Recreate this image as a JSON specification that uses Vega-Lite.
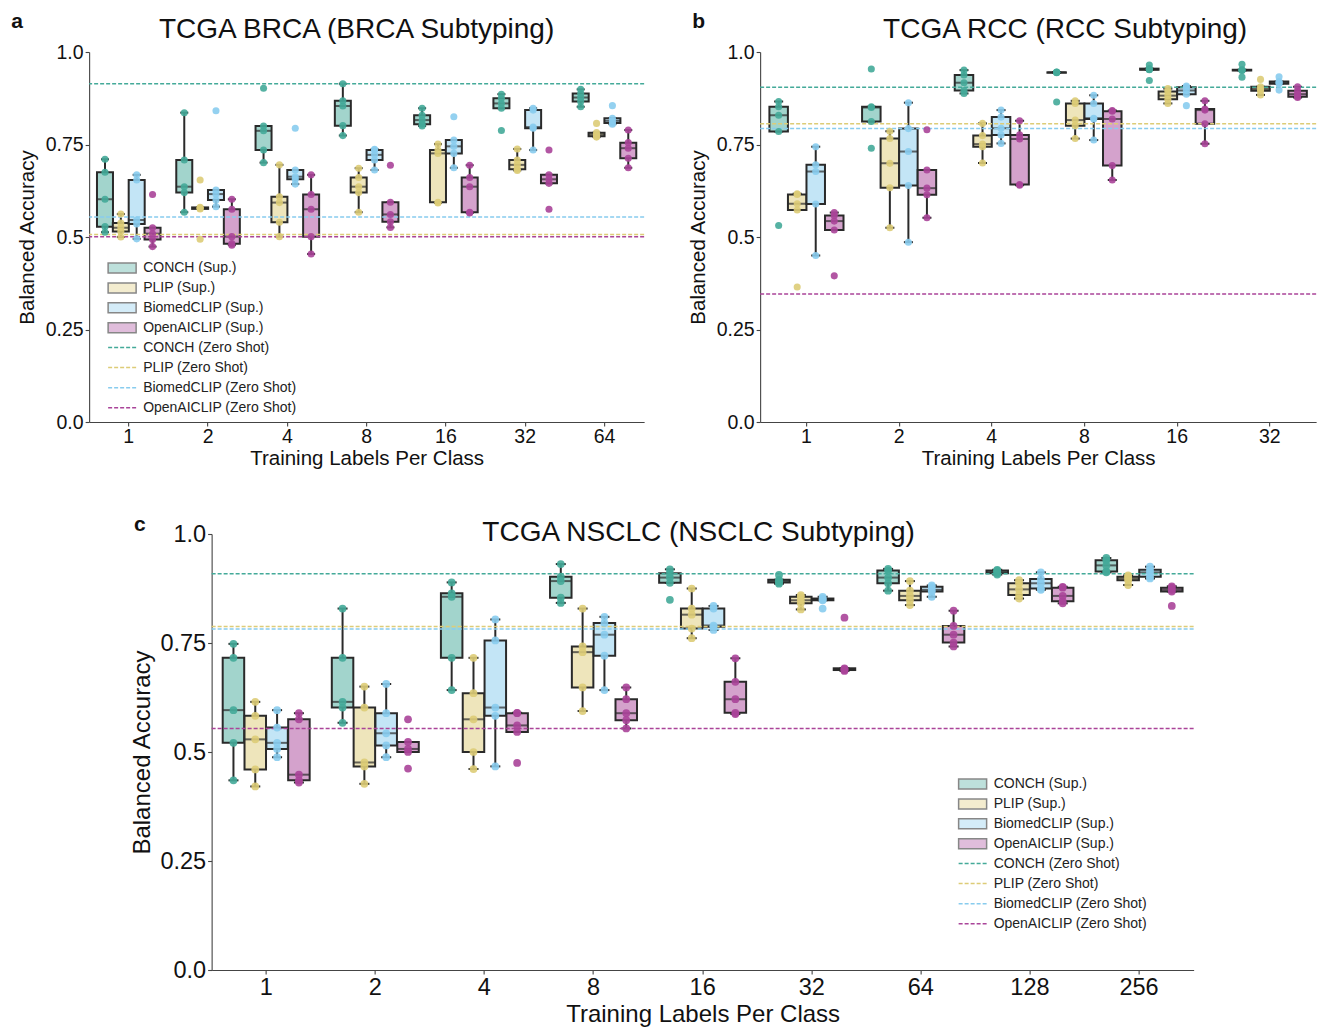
{
"$schema": "https://vega.github.io/schema/vega-lite/v6.json",
"padding": {"left": 11, "top": 10, "right": 5, "bottom": 0},
"background": "white",
"config": {
  "font": "Liberation Sans",
  "view": {"stroke": null},
  "axis": {"grid": false, "domainColor": "#444", "tickColor": "#444", "labelColor": "#111", "titleColor": "#111", "titleFontWeight": "normal", "labelFont": "Liberation Sans", "titleFont": "Liberation Sans", "tickSize": 4, "domainWidth": 1.1, "tickWidth": 1.1},
  "title": {"fontWeight": "normal", "color": "#111", "font": "Liberation Sans"},
  "legend": {"labelFont": "Liberation Sans", "labelFontSize": 14, "labelColor": "#222", "title": null, "symbolSize": 100, "labelOffset": 23, "rowPadding": 3.9, "orient": "none"}
},
"datasets": {
"zs": [
{"panel":"a","model":"CONCH (Zero Shot)","acc":0.914},
{"panel":"a","model":"PLIP (Zero Shot)","acc":0.507},
{"panel":"a","model":"BiomedCLIP (Zero Shot)","acc":0.554},
{"panel":"a","model":"OpenAICLIP (Zero Shot)","acc":0.501},
{"panel":"b","model":"CONCH (Zero Shot)","acc":0.905},
{"panel":"b","model":"PLIP (Zero Shot)","acc":0.806},
{"panel":"b","model":"BiomedCLIP (Zero Shot)","acc":0.793},
{"panel":"b","model":"OpenAICLIP (Zero Shot)","acc":0.346},
{"panel":"c","model":"CONCH (Zero Shot)","acc":0.909},
{"panel":"c","model":"PLIP (Zero Shot)","acc":0.788},
{"panel":"c","model":"BiomedCLIP (Zero Shot)","acc":0.782},
{"panel":"c","model":"OpenAICLIP (Zero Shot)","acc":0.554}
],
"pts": [
{"panel":"a","labels":"1","model":"CONCH","acc":0.513},{"panel":"a","labels":"1","model":"CONCH","acc":0.528},{"panel":"a","labels":"1","model":"CONCH","acc":0.602},{"panel":"a","labels":"1","model":"CONCH","acc":0.675},{"panel":"a","labels":"1","model":"CONCH","acc":0.710},
{"panel":"a","labels":"1","model":"PLIP","acc":0.500},{"panel":"a","labels":"1","model":"PLIP","acc":0.515},{"panel":"a","labels":"1","model":"PLIP","acc":0.525},{"panel":"a","labels":"1","model":"PLIP","acc":0.538},{"panel":"a","labels":"1","model":"PLIP","acc":0.562},
{"panel":"a","labels":"1","model":"BiomedCLIP","acc":0.495},{"panel":"a","labels":"1","model":"BiomedCLIP","acc":0.535},{"panel":"a","labels":"1","model":"BiomedCLIP","acc":0.546},{"panel":"a","labels":"1","model":"BiomedCLIP","acc":0.654},{"panel":"a","labels":"1","model":"BiomedCLIP","acc":0.668},
{"panel":"a","labels":"1","model":"OpenAICLIP","acc":0.474},{"panel":"a","labels":"1","model":"OpenAICLIP","acc":0.493},{"panel":"a","labels":"1","model":"OpenAICLIP","acc":0.509},{"panel":"a","labels":"1","model":"OpenAICLIP","acc":0.525},{"panel":"a","labels":"1","model":"OpenAICLIP","acc":0.615},
{"panel":"a","labels":"2","model":"CONCH","acc":0.567},{"panel":"a","labels":"2","model":"CONCH","acc":0.620},{"panel":"a","labels":"2","model":"CONCH","acc":0.636},{"panel":"a","labels":"2","model":"CONCH","acc":0.708},{"panel":"a","labels":"2","model":"CONCH","acc":0.836},
{"panel":"a","labels":"2","model":"PLIP","acc":0.494},{"panel":"a","labels":"2","model":"PLIP","acc":0.576},{"panel":"a","labels":"2","model":"PLIP","acc":0.578},{"panel":"a","labels":"2","model":"PLIP","acc":0.580},{"panel":"a","labels":"2","model":"PLIP","acc":0.654},
{"panel":"a","labels":"2","model":"BiomedCLIP","acc":0.582},{"panel":"a","labels":"2","model":"BiomedCLIP","acc":0.600},{"panel":"a","labels":"2","model":"BiomedCLIP","acc":0.616},{"panel":"a","labels":"2","model":"BiomedCLIP","acc":0.627},{"panel":"a","labels":"2","model":"BiomedCLIP","acc":0.841},
{"panel":"a","labels":"2","model":"OpenAICLIP","acc":0.478},{"panel":"a","labels":"2","model":"OpenAICLIP","acc":0.482},{"panel":"a","labels":"2","model":"OpenAICLIP","acc":0.501},{"panel":"a","labels":"2","model":"OpenAICLIP","acc":0.575},{"panel":"a","labels":"2","model":"OpenAICLIP","acc":0.602},
{"panel":"a","labels":"4","model":"CONCH","acc":0.701},{"panel":"a","labels":"4","model":"CONCH","acc":0.735},{"panel":"a","labels":"4","model":"CONCH","acc":0.787},{"panel":"a","labels":"4","model":"CONCH","acc":0.800},{"panel":"a","labels":"4","model":"CONCH","acc":0.902},
{"panel":"a","labels":"4","model":"PLIP","acc":0.501},{"panel":"a","labels":"4","model":"PLIP","acc":0.540},{"panel":"a","labels":"4","model":"PLIP","acc":0.593},{"panel":"a","labels":"4","model":"PLIP","acc":0.609},{"panel":"a","labels":"4","model":"PLIP","acc":0.695},
{"panel":"a","labels":"4","model":"BiomedCLIP","acc":0.643},{"panel":"a","labels":"4","model":"BiomedCLIP","acc":0.656},{"panel":"a","labels":"4","model":"BiomedCLIP","acc":0.663},{"panel":"a","labels":"4","model":"BiomedCLIP","acc":0.681},{"panel":"a","labels":"4","model":"BiomedCLIP","acc":0.794},
{"panel":"a","labels":"4","model":"OpenAICLIP","acc":0.454},{"panel":"a","labels":"4","model":"OpenAICLIP","acc":0.501},{"panel":"a","labels":"4","model":"OpenAICLIP","acc":0.575},{"panel":"a","labels":"4","model":"OpenAICLIP","acc":0.615},{"panel":"a","labels":"4","model":"OpenAICLIP","acc":0.668},
{"panel":"a","labels":"8","model":"CONCH","acc":0.774},{"panel":"a","labels":"8","model":"CONCH","acc":0.801},{"panel":"a","labels":"8","model":"CONCH","acc":0.854},{"panel":"a","labels":"8","model":"CONCH","acc":0.868},{"panel":"a","labels":"8","model":"CONCH","acc":0.914},
{"panel":"a","labels":"8","model":"PLIP","acc":0.567},{"panel":"a","labels":"8","model":"PLIP","acc":0.620},{"panel":"a","labels":"8","model":"PLIP","acc":0.636},{"panel":"a","labels":"8","model":"PLIP","acc":0.661},{"panel":"a","labels":"8","model":"PLIP","acc":0.686},
{"panel":"a","labels":"8","model":"BiomedCLIP","acc":0.681},{"panel":"a","labels":"8","model":"BiomedCLIP","acc":0.708},{"panel":"a","labels":"8","model":"BiomedCLIP","acc":0.722},{"panel":"a","labels":"8","model":"BiomedCLIP","acc":0.735},{"panel":"a","labels":"8","model":"BiomedCLIP","acc":0.737},
{"panel":"a","labels":"8","model":"OpenAICLIP","acc":0.526},{"panel":"a","labels":"8","model":"OpenAICLIP","acc":0.541},{"panel":"a","labels":"8","model":"OpenAICLIP","acc":0.561},{"panel":"a","labels":"8","model":"OpenAICLIP","acc":0.594},{"panel":"a","labels":"8","model":"OpenAICLIP","acc":0.694},
{"panel":"a","labels":"16","model":"CONCH","acc":0.800},{"panel":"a","labels":"16","model":"CONCH","acc":0.805},{"panel":"a","labels":"16","model":"CONCH","acc":0.816},{"panel":"a","labels":"16","model":"CONCH","acc":0.829},{"panel":"a","labels":"16","model":"CONCH","acc":0.848},
{"panel":"a","labels":"16","model":"PLIP","acc":0.592},{"panel":"a","labels":"16","model":"PLIP","acc":0.594},{"panel":"a","labels":"16","model":"PLIP","acc":0.726},{"panel":"a","labels":"16","model":"PLIP","acc":0.735},{"panel":"a","labels":"16","model":"PLIP","acc":0.751},
{"panel":"a","labels":"16","model":"BiomedCLIP","acc":0.687},{"panel":"a","labels":"16","model":"BiomedCLIP","acc":0.726},{"panel":"a","labels":"16","model":"BiomedCLIP","acc":0.745},{"panel":"a","labels":"16","model":"BiomedCLIP","acc":0.762},{"panel":"a","labels":"16","model":"BiomedCLIP","acc":0.825},
{"panel":"a","labels":"16","model":"OpenAICLIP","acc":0.565},{"panel":"a","labels":"16","model":"OpenAICLIP","acc":0.567},{"panel":"a","labels":"16","model":"OpenAICLIP","acc":0.636},{"panel":"a","labels":"16","model":"OpenAICLIP","acc":0.661},{"panel":"a","labels":"16","model":"OpenAICLIP","acc":0.694},
{"panel":"a","labels":"32","model":"CONCH","acc":0.788},{"panel":"a","labels":"32","model":"CONCH","acc":0.848},{"panel":"a","labels":"32","model":"CONCH","acc":0.861},{"panel":"a","labels":"32","model":"CONCH","acc":0.875},{"panel":"a","labels":"32","model":"CONCH","acc":0.886},
{"panel":"a","labels":"32","model":"PLIP","acc":0.680},{"panel":"a","labels":"32","model":"PLIP","acc":0.683},{"panel":"a","labels":"32","model":"PLIP","acc":0.695},{"panel":"a","labels":"32","model":"PLIP","acc":0.708},{"panel":"a","labels":"32","model":"PLIP","acc":0.738},
{"panel":"a","labels":"32","model":"BiomedCLIP","acc":0.735},{"panel":"a","labels":"32","model":"BiomedCLIP","acc":0.794},{"panel":"a","labels":"32","model":"BiomedCLIP","acc":0.797},{"panel":"a","labels":"32","model":"BiomedCLIP","acc":0.843},{"panel":"a","labels":"32","model":"BiomedCLIP","acc":0.848},
{"panel":"a","labels":"32","model":"OpenAICLIP","acc":0.575},{"panel":"a","labels":"32","model":"OpenAICLIP","acc":0.645},{"panel":"a","labels":"32","model":"OpenAICLIP","acc":0.656},{"panel":"a","labels":"32","model":"OpenAICLIP","acc":0.668},{"panel":"a","labels":"32","model":"OpenAICLIP","acc":0.735},
{"panel":"a","labels":"64","model":"CONCH","acc":0.852},{"panel":"a","labels":"64","model":"CONCH","acc":0.866},{"panel":"a","labels":"64","model":"CONCH","acc":0.877},{"panel":"a","labels":"64","model":"CONCH","acc":0.888},{"panel":"a","labels":"64","model":"CONCH","acc":0.899},
{"panel":"a","labels":"64","model":"PLIP","acc":0.770},{"panel":"a","labels":"64","model":"PLIP","acc":0.772},{"panel":"a","labels":"64","model":"PLIP","acc":0.777},{"panel":"a","labels":"64","model":"PLIP","acc":0.782},{"panel":"a","labels":"64","model":"PLIP","acc":0.807},
{"panel":"a","labels":"64","model":"BiomedCLIP","acc":0.805},{"panel":"a","labels":"64","model":"BiomedCLIP","acc":0.808},{"panel":"a","labels":"64","model":"BiomedCLIP","acc":0.814},{"panel":"a","labels":"64","model":"BiomedCLIP","acc":0.821},{"panel":"a","labels":"64","model":"BiomedCLIP","acc":0.855},
{"panel":"a","labels":"64","model":"OpenAICLIP","acc":0.687},{"panel":"a","labels":"64","model":"OpenAICLIP","acc":0.713},{"panel":"a","labels":"64","model":"OpenAICLIP","acc":0.740},{"panel":"a","labels":"64","model":"OpenAICLIP","acc":0.755},{"panel":"a","labels":"64","model":"OpenAICLIP","acc":0.789},

{"panel":"b","labels":"1","model":"CONCH","acc":0.531},{"panel":"b","labels":"1","model":"CONCH","acc":0.785},{"panel":"b","labels":"1","model":"CONCH","acc":0.829},{"panel":"b","labels":"1","model":"CONCH","acc":0.852},{"panel":"b","labels":"1","model":"CONCH","acc":0.866},
{"panel":"b","labels":"1","model":"PLIP","acc":0.365},{"panel":"b","labels":"1","model":"PLIP","acc":0.573},{"panel":"b","labels":"1","model":"PLIP","acc":0.590},{"panel":"b","labels":"1","model":"PLIP","acc":0.615},{"panel":"b","labels":"1","model":"PLIP","acc":0.617},
{"panel":"b","labels":"1","model":"BiomedCLIP","acc":0.450},{"panel":"b","labels":"1","model":"BiomedCLIP","acc":0.589},{"panel":"b","labels":"1","model":"BiomedCLIP","acc":0.677},{"panel":"b","labels":"1","model":"BiomedCLIP","acc":0.695},{"panel":"b","labels":"1","model":"BiomedCLIP","acc":0.744},
{"panel":"b","labels":"1","model":"OpenAICLIP","acc":0.395},{"panel":"b","labels":"1","model":"OpenAICLIP","acc":0.519},{"panel":"b","labels":"1","model":"OpenAICLIP","acc":0.543},{"panel":"b","labels":"1","model":"OpenAICLIP","acc":0.558},{"panel":"b","labels":"1","model":"OpenAICLIP","acc":0.566},
{"panel":"b","labels":"2","model":"CONCH","acc":0.740},{"panel":"b","labels":"2","model":"CONCH","acc":0.812},{"panel":"b","labels":"2","model":"CONCH","acc":0.850},{"panel":"b","labels":"2","model":"CONCH","acc":0.852},{"panel":"b","labels":"2","model":"CONCH","acc":0.954},
{"panel":"b","labels":"2","model":"PLIP","acc":0.525},{"panel":"b","labels":"2","model":"PLIP","acc":0.633},{"panel":"b","labels":"2","model":"PLIP","acc":0.699},{"panel":"b","labels":"2","model":"PLIP","acc":0.766},{"panel":"b","labels":"2","model":"PLIP","acc":0.786},
{"panel":"b","labels":"2","model":"BiomedCLIP","acc":0.486},{"panel":"b","labels":"2","model":"BiomedCLIP","acc":0.639},{"panel":"b","labels":"2","model":"BiomedCLIP","acc":0.731},{"panel":"b","labels":"2","model":"BiomedCLIP","acc":0.793},{"panel":"b","labels":"2","model":"BiomedCLIP","acc":0.863},
{"panel":"b","labels":"2","model":"OpenAICLIP","acc":0.552},{"panel":"b","labels":"2","model":"OpenAICLIP","acc":0.614},{"panel":"b","labels":"2","model":"OpenAICLIP","acc":0.632},{"panel":"b","labels":"2","model":"OpenAICLIP","acc":0.681},{"panel":"b","labels":"2","model":"OpenAICLIP","acc":0.790},
{"panel":"b","labels":"4","model":"CONCH","acc":0.888},{"panel":"b","labels":"4","model":"CONCH","acc":0.896},{"panel":"b","labels":"4","model":"CONCH","acc":0.917},{"panel":"b","labels":"4","model":"CONCH","acc":0.938},{"panel":"b","labels":"4","model":"CONCH","acc":0.951},
{"panel":"b","labels":"4","model":"PLIP","acc":0.700},{"panel":"b","labels":"4","model":"PLIP","acc":0.744},{"panel":"b","labels":"4","model":"PLIP","acc":0.751},{"panel":"b","labels":"4","model":"PLIP","acc":0.774},{"panel":"b","labels":"4","model":"PLIP","acc":0.807},
{"panel":"b","labels":"4","model":"BiomedCLIP","acc":0.753},{"panel":"b","labels":"4","model":"BiomedCLIP","acc":0.776},{"panel":"b","labels":"4","model":"BiomedCLIP","acc":0.794},{"panel":"b","labels":"4","model":"BiomedCLIP","acc":0.824},{"panel":"b","labels":"4","model":"BiomedCLIP","acc":0.843},
{"panel":"b","labels":"4","model":"OpenAICLIP","acc":0.640},{"panel":"b","labels":"4","model":"OpenAICLIP","acc":0.642},{"panel":"b","labels":"4","model":"OpenAICLIP","acc":0.765},{"panel":"b","labels":"4","model":"OpenAICLIP","acc":0.776},{"panel":"b","labels":"4","model":"OpenAICLIP","acc":0.814},
{"panel":"b","labels":"8","model":"CONCH","acc":0.865},{"panel":"b","labels":"8","model":"CONCH","acc":0.944},{"panel":"b","labels":"8","model":"CONCH","acc":0.945},{"panel":"b","labels":"8","model":"CONCH","acc":0.945},{"panel":"b","labels":"8","model":"CONCH","acc":0.946},
{"panel":"b","labels":"8","model":"PLIP","acc":0.766},{"panel":"b","labels":"8","model":"PLIP","acc":0.801},{"panel":"b","labels":"8","model":"PLIP","acc":0.816},{"panel":"b","labels":"8","model":"PLIP","acc":0.861},{"panel":"b","labels":"8","model":"PLIP","acc":0.868},
{"panel":"b","labels":"8","model":"BiomedCLIP","acc":0.762},{"panel":"b","labels":"8","model":"BiomedCLIP","acc":0.819},{"panel":"b","labels":"8","model":"BiomedCLIP","acc":0.821},{"panel":"b","labels":"8","model":"BiomedCLIP","acc":0.861},{"panel":"b","labels":"8","model":"BiomedCLIP","acc":0.883},
{"panel":"b","labels":"8","model":"OpenAICLIP","acc":0.654},{"panel":"b","labels":"8","model":"OpenAICLIP","acc":0.693},{"panel":"b","labels":"8","model":"OpenAICLIP","acc":0.819},{"panel":"b","labels":"8","model":"OpenAICLIP","acc":0.840},{"panel":"b","labels":"8","model":"OpenAICLIP","acc":0.842},
{"panel":"b","labels":"16","model":"CONCH","acc":0.923},{"panel":"b","labels":"16","model":"CONCH","acc":0.952},{"panel":"b","labels":"16","model":"CONCH","acc":0.953},{"panel":"b","labels":"16","model":"CONCH","acc":0.955},{"panel":"b","labels":"16","model":"CONCH","acc":0.965},
{"panel":"b","labels":"16","model":"PLIP","acc":0.861},{"panel":"b","labels":"16","model":"PLIP","acc":0.872},{"panel":"b","labels":"16","model":"PLIP","acc":0.882},{"panel":"b","labels":"16","model":"PLIP","acc":0.893},{"panel":"b","labels":"16","model":"PLIP","acc":0.901},
{"panel":"b","labels":"16","model":"BiomedCLIP","acc":0.855},{"panel":"b","labels":"16","model":"BiomedCLIP","acc":0.886},{"panel":"b","labels":"16","model":"BiomedCLIP","acc":0.896},{"panel":"b","labels":"16","model":"BiomedCLIP","acc":0.905},{"panel":"b","labels":"16","model":"BiomedCLIP","acc":0.908},
{"panel":"b","labels":"16","model":"OpenAICLIP","acc":0.752},{"panel":"b","labels":"16","model":"OpenAICLIP","acc":0.806},{"panel":"b","labels":"16","model":"OpenAICLIP","acc":0.843},{"panel":"b","labels":"16","model":"OpenAICLIP","acc":0.846},{"panel":"b","labels":"16","model":"OpenAICLIP","acc":0.868},
{"panel":"b","labels":"32","model":"CONCH","acc":0.932},{"panel":"b","labels":"32","model":"CONCH","acc":0.950},{"panel":"b","labels":"32","model":"CONCH","acc":0.951},{"panel":"b","labels":"32","model":"CONCH","acc":0.952},{"panel":"b","labels":"32","model":"CONCH","acc":0.967},
{"panel":"b","labels":"32","model":"PLIP","acc":0.884},{"panel":"b","labels":"32","model":"PLIP","acc":0.895},{"panel":"b","labels":"32","model":"PLIP","acc":0.900},{"panel":"b","labels":"32","model":"PLIP","acc":0.906},{"panel":"b","labels":"32","model":"PLIP","acc":0.926},
{"panel":"b","labels":"32","model":"BiomedCLIP","acc":0.897},{"panel":"b","labels":"32","model":"BiomedCLIP","acc":0.914},{"panel":"b","labels":"32","model":"BiomedCLIP","acc":0.917},{"panel":"b","labels":"32","model":"BiomedCLIP","acc":0.920},{"panel":"b","labels":"32","model":"BiomedCLIP","acc":0.933},
{"panel":"b","labels":"32","model":"OpenAICLIP","acc":0.877},{"panel":"b","labels":"32","model":"OpenAICLIP","acc":0.879},{"panel":"b","labels":"32","model":"OpenAICLIP","acc":0.886},{"panel":"b","labels":"32","model":"OpenAICLIP","acc":0.895},{"panel":"b","labels":"32","model":"OpenAICLIP","acc":0.906},

{"panel":"c","labels":"1","model":"CONCH","acc":0.435},{"panel":"c","labels":"1","model":"CONCH","acc":0.521},{"panel":"c","labels":"1","model":"CONCH","acc":0.596},{"panel":"c","labels":"1","model":"CONCH","acc":0.716},{"panel":"c","labels":"1","model":"CONCH","acc":0.748},
{"panel":"c","labels":"1","model":"PLIP","acc":0.421},{"panel":"c","labels":"1","model":"PLIP","acc":0.460},{"panel":"c","labels":"1","model":"PLIP","acc":0.529},{"panel":"c","labels":"1","model":"PLIP","acc":0.583},{"panel":"c","labels":"1","model":"PLIP","acc":0.615},
{"panel":"c","labels":"1","model":"BiomedCLIP","acc":0.488},{"panel":"c","labels":"1","model":"BiomedCLIP","acc":0.507},{"panel":"c","labels":"1","model":"BiomedCLIP","acc":0.521},{"panel":"c","labels":"1","model":"BiomedCLIP","acc":0.556},{"panel":"c","labels":"1","model":"BiomedCLIP","acc":0.596},
{"panel":"c","labels":"1","model":"OpenAICLIP","acc":0.430},{"panel":"c","labels":"1","model":"OpenAICLIP","acc":0.435},{"panel":"c","labels":"1","model":"OpenAICLIP","acc":0.448},{"panel":"c","labels":"1","model":"OpenAICLIP","acc":0.575},{"panel":"c","labels":"1","model":"OpenAICLIP","acc":0.589},
{"panel":"c","labels":"2","model":"CONCH","acc":0.567},{"panel":"c","labels":"2","model":"CONCH","acc":0.602},{"panel":"c","labels":"2","model":"CONCH","acc":0.615},{"panel":"c","labels":"2","model":"CONCH","acc":0.716},{"panel":"c","labels":"2","model":"CONCH","acc":0.829},
{"panel":"c","labels":"2","model":"PLIP","acc":0.427},{"panel":"c","labels":"2","model":"PLIP","acc":0.467},{"panel":"c","labels":"2","model":"PLIP","acc":0.476},{"panel":"c","labels":"2","model":"PLIP","acc":0.602},{"panel":"c","labels":"2","model":"PLIP","acc":0.650},
{"panel":"c","labels":"2","model":"BiomedCLIP","acc":0.488},{"panel":"c","labels":"2","model":"BiomedCLIP","acc":0.515},{"panel":"c","labels":"2","model":"BiomedCLIP","acc":0.543},{"panel":"c","labels":"2","model":"BiomedCLIP","acc":0.589},{"panel":"c","labels":"2","model":"BiomedCLIP","acc":0.656},
{"panel":"c","labels":"2","model":"OpenAICLIP","acc":0.462},{"panel":"c","labels":"2","model":"OpenAICLIP","acc":0.500},{"panel":"c","labels":"2","model":"OpenAICLIP","acc":0.507},{"panel":"c","labels":"2","model":"OpenAICLIP","acc":0.523},{"panel":"c","labels":"2","model":"OpenAICLIP","acc":0.575},
{"panel":"c","labels":"4","model":"CONCH","acc":0.642},{"panel":"c","labels":"4","model":"CONCH","acc":0.716},{"panel":"c","labels":"4","model":"CONCH","acc":0.856},{"panel":"c","labels":"4","model":"CONCH","acc":0.864},{"panel":"c","labels":"4","model":"CONCH","acc":0.889},
{"panel":"c","labels":"4","model":"PLIP","acc":0.461},{"panel":"c","labels":"4","model":"PLIP","acc":0.500},{"panel":"c","labels":"4","model":"PLIP","acc":0.575},{"panel":"c","labels":"4","model":"PLIP","acc":0.635},{"panel":"c","labels":"4","model":"PLIP","acc":0.716},
{"panel":"c","labels":"4","model":"BiomedCLIP","acc":0.467},{"panel":"c","labels":"4","model":"BiomedCLIP","acc":0.583},{"panel":"c","labels":"4","model":"BiomedCLIP","acc":0.602},{"panel":"c","labels":"4","model":"BiomedCLIP","acc":0.756},{"panel":"c","labels":"4","model":"BiomedCLIP","acc":0.804},
{"panel":"c","labels":"4","model":"OpenAICLIP","acc":0.475},{"panel":"c","labels":"4","model":"OpenAICLIP","acc":0.546},{"panel":"c","labels":"4","model":"OpenAICLIP","acc":0.561},{"panel":"c","labels":"4","model":"OpenAICLIP","acc":0.589},{"panel":"c","labels":"4","model":"OpenAICLIP","acc":0.590},
{"panel":"c","labels":"8","model":"CONCH","acc":0.842},{"panel":"c","labels":"8","model":"CONCH","acc":0.854},{"panel":"c","labels":"8","model":"CONCH","acc":0.892},{"panel":"c","labels":"8","model":"CONCH","acc":0.902},{"panel":"c","labels":"8","model":"CONCH","acc":0.931},
{"panel":"c","labels":"8","model":"PLIP","acc":0.594},{"panel":"c","labels":"8","model":"PLIP","acc":0.648},{"panel":"c","labels":"8","model":"PLIP","acc":0.729},{"panel":"c","labels":"8","model":"PLIP","acc":0.742},{"panel":"c","labels":"8","model":"PLIP","acc":0.829},
{"panel":"c","labels":"8","model":"BiomedCLIP","acc":0.642},{"panel":"c","labels":"8","model":"BiomedCLIP","acc":0.721},{"panel":"c","labels":"8","model":"BiomedCLIP","acc":0.769},{"panel":"c","labels":"8","model":"BiomedCLIP","acc":0.796},{"panel":"c","labels":"8","model":"BiomedCLIP","acc":0.810},
{"panel":"c","labels":"8","model":"OpenAICLIP","acc":0.554},{"panel":"c","labels":"8","model":"OpenAICLIP","acc":0.573},{"panel":"c","labels":"8","model":"OpenAICLIP","acc":0.589},{"panel":"c","labels":"8","model":"OpenAICLIP","acc":0.621},{"panel":"c","labels":"8","model":"OpenAICLIP","acc":0.648},
{"panel":"c","labels":"16","model":"CONCH","acc":0.849},{"panel":"c","labels":"16","model":"CONCH","acc":0.888},{"panel":"c","labels":"16","model":"CONCH","acc":0.900},{"panel":"c","labels":"16","model":"CONCH","acc":0.910},{"panel":"c","labels":"16","model":"CONCH","acc":0.919},
{"panel":"c","labels":"16","model":"PLIP","acc":0.761},{"panel":"c","labels":"16","model":"PLIP","acc":0.783},{"panel":"c","labels":"16","model":"PLIP","acc":0.815},{"panel":"c","labels":"16","model":"PLIP","acc":0.829},{"panel":"c","labels":"16","model":"PLIP","acc":0.875},
{"panel":"c","labels":"16","model":"BiomedCLIP","acc":0.780},{"panel":"c","labels":"16","model":"BiomedCLIP","acc":0.787},{"panel":"c","labels":"16","model":"BiomedCLIP","acc":0.790},{"panel":"c","labels":"16","model":"BiomedCLIP","acc":0.829},{"panel":"c","labels":"16","model":"BiomedCLIP","acc":0.835},
{"panel":"c","labels":"16","model":"OpenAICLIP","acc":0.587},{"panel":"c","labels":"16","model":"OpenAICLIP","acc":0.590},{"panel":"c","labels":"16","model":"OpenAICLIP","acc":0.621},{"panel":"c","labels":"16","model":"OpenAICLIP","acc":0.661},{"panel":"c","labels":"16","model":"OpenAICLIP","acc":0.715},
{"panel":"c","labels":"32","model":"CONCH","acc":0.886},{"panel":"c","labels":"32","model":"CONCH","acc":0.889},{"panel":"c","labels":"32","model":"CONCH","acc":0.892},{"panel":"c","labels":"32","model":"CONCH","acc":0.895},{"panel":"c","labels":"32","model":"CONCH","acc":0.906},
{"panel":"c","labels":"32","model":"PLIP","acc":0.827},{"panel":"c","labels":"32","model":"PLIP","acc":0.841},{"panel":"c","labels":"32","model":"PLIP","acc":0.848},{"panel":"c","labels":"32","model":"PLIP","acc":0.856},{"panel":"c","labels":"32","model":"PLIP","acc":0.860},
{"panel":"c","labels":"32","model":"BiomedCLIP","acc":0.829},{"panel":"c","labels":"32","model":"BiomedCLIP","acc":0.848},{"panel":"c","labels":"32","model":"BiomedCLIP","acc":0.850},{"panel":"c","labels":"32","model":"BiomedCLIP","acc":0.852},{"panel":"c","labels":"32","model":"BiomedCLIP","acc":0.856},
{"panel":"c","labels":"32","model":"OpenAICLIP","acc":0.686},{"panel":"c","labels":"32","model":"OpenAICLIP","acc":0.688},{"panel":"c","labels":"32","model":"OpenAICLIP","acc":0.690},{"panel":"c","labels":"32","model":"OpenAICLIP","acc":0.692},{"panel":"c","labels":"32","model":"OpenAICLIP","acc":0.808},
{"panel":"c","labels":"64","model":"CONCH","acc":0.870},{"panel":"c","labels":"64","model":"CONCH","acc":0.887},{"panel":"c","labels":"64","model":"CONCH","acc":0.900},{"panel":"c","labels":"64","model":"CONCH","acc":0.916},{"panel":"c","labels":"64","model":"CONCH","acc":0.920},
{"panel":"c","labels":"64","model":"PLIP","acc":0.837},{"panel":"c","labels":"64","model":"PLIP","acc":0.848},{"panel":"c","labels":"64","model":"PLIP","acc":0.858},{"panel":"c","labels":"64","model":"PLIP","acc":0.870},{"panel":"c","labels":"64","model":"PLIP","acc":0.892},
{"panel":"c","labels":"64","model":"BiomedCLIP","acc":0.856},{"panel":"c","labels":"64","model":"BiomedCLIP","acc":0.868},{"panel":"c","labels":"64","model":"BiomedCLIP","acc":0.872},{"panel":"c","labels":"64","model":"BiomedCLIP","acc":0.879},{"panel":"c","labels":"64","model":"BiomedCLIP","acc":0.882},
{"panel":"c","labels":"64","model":"OpenAICLIP","acc":0.742},{"panel":"c","labels":"64","model":"OpenAICLIP","acc":0.751},{"panel":"c","labels":"64","model":"OpenAICLIP","acc":0.769},{"panel":"c","labels":"64","model":"OpenAICLIP","acc":0.789},{"panel":"c","labels":"64","model":"OpenAICLIP","acc":0.824},
{"panel":"c","labels":"128","model":"CONCH","acc":0.907},{"panel":"c","labels":"128","model":"CONCH","acc":0.910},{"panel":"c","labels":"128","model":"CONCH","acc":0.913},{"panel":"c","labels":"128","model":"CONCH","acc":0.916},{"panel":"c","labels":"128","model":"CONCH","acc":0.918},
{"panel":"c","labels":"128","model":"PLIP","acc":0.852},{"panel":"c","labels":"128","model":"PLIP","acc":0.860},{"panel":"c","labels":"128","model":"PLIP","acc":0.873},{"panel":"c","labels":"128","model":"PLIP","acc":0.887},{"panel":"c","labels":"128","model":"PLIP","acc":0.894},
{"panel":"c","labels":"128","model":"BiomedCLIP","acc":0.872},{"panel":"c","labels":"128","model":"BiomedCLIP","acc":0.875},{"panel":"c","labels":"128","model":"BiomedCLIP","acc":0.887},{"panel":"c","labels":"128","model":"BiomedCLIP","acc":0.897},{"panel":"c","labels":"128","model":"BiomedCLIP","acc":0.912},
{"panel":"c","labels":"128","model":"OpenAICLIP","acc":0.841},{"panel":"c","labels":"128","model":"OpenAICLIP","acc":0.846},{"panel":"c","labels":"128","model":"OpenAICLIP","acc":0.858},{"panel":"c","labels":"128","model":"OpenAICLIP","acc":0.877},{"panel":"c","labels":"128","model":"OpenAICLIP","acc":0.879},
{"panel":"c","labels":"256","model":"CONCH","acc":0.912},{"panel":"c","labels":"256","model":"CONCH","acc":0.914},{"panel":"c","labels":"256","model":"CONCH","acc":0.928},{"panel":"c","labels":"256","model":"CONCH","acc":0.940},{"panel":"c","labels":"256","model":"CONCH","acc":0.945},
{"panel":"c","labels":"256","model":"PLIP","acc":0.883},{"panel":"c","labels":"256","model":"PLIP","acc":0.894},{"panel":"c","labels":"256","model":"PLIP","acc":0.898},{"panel":"c","labels":"256","model":"PLIP","acc":0.902},{"panel":"c","labels":"256","model":"PLIP","acc":0.905},
{"panel":"c","labels":"256","model":"BiomedCLIP","acc":0.898},{"panel":"c","labels":"256","model":"BiomedCLIP","acc":0.902},{"panel":"c","labels":"256","model":"BiomedCLIP","acc":0.912},{"panel":"c","labels":"256","model":"BiomedCLIP","acc":0.918},{"panel":"c","labels":"256","model":"BiomedCLIP","acc":0.925},
{"panel":"c","labels":"256","model":"OpenAICLIP","acc":0.835},{"panel":"c","labels":"256","model":"OpenAICLIP","acc":0.868},{"panel":"c","labels":"256","model":"OpenAICLIP","acc":0.872},{"panel":"c","labels":"256","model":"OpenAICLIP","acc":0.877},{"panel":"c","labels":"256","model":"OpenAICLIP","acc":0.880}
]
},
"vconcat": [
 {
  "hconcat": [
   {
    "title": {"text": "a", "anchor": "start", "frame": "bounds", "fontSize": 21, "fontWeight": "bold", "offset": -16, "dx": -6},
    "resolve": {"scale": {"color": "independent", "fill": "independent", "stroke": "independent", "xOffset": "independent"}},
    "vconcat": [
     {
      "width": 555, "height": 370,
      "title": {"text": "TCGA BRCA (BRCA Subtyping)", "fontSize": 28, "offset": -1.5, "frame": "group", "dx": -10},
      "layer": [
       {
        "data": {"name": "pts"}, "transform": [{"filter": "datum.panel === 'a'"}],
        "mark": {"type": "boxplot", "extent": 1.5, "size": 16, "outliers": false,
          "box": {"stroke": "#2a2a2a", "strokeWidth": 2},
          "median": {"color": "#2a2a2a", "thickness": 2},
          "rule": {"color": "#2a2a2a", "strokeWidth": 2},
          "ticks": {"color": "#2a2a2a", "size": 8, "thickness": 2}},
        "encoding": {
          "x": {"field": "labels", "type": "nominal", "scale": {"domain": ["1","2","4","8","16","32","64"], "paddingInner": 0, "paddingOuter": 0},
                "axis": {"title": "Training Labels Per Class", "labelAngle": 0, "labelFontSize": 19.5, "titleFontSize": 20.5, "labelPadding": 1, "titlePadding": 3}},
          "xOffset": {"field": "model", "type": "nominal", "scale": {"domain": ["CONCH","PLIP","BiomedCLIP","OpenAICLIP"], "paddingInner": 0, "paddingOuter": 0.5}},
          "y": {"field": "acc", "type": "quantitative", "scale": {"domain": [0, 1]},
                "axis": {"title": "Balanced Accuracy", "values": [0, 0.25, 0.5, 0.75, 1], "labelExpr": "datum.value == 0 ? '0.0' : datum.value == 1 ? '1.0' : '' + datum.value", "labelFontSize": 19.5, "titleFontSize": 20.5, "titlePadding": 8, "labelPadding": 2}},
          "color": {"field": "model", "type": "nominal",
            "scale": {"domain": ["CONCH","PLIP","BiomedCLIP","OpenAICLIP"], "range": ["#A2D4CC","#EEE5BB","#C3E5F6","#D4A2CC"]},
            "legend": {"legendX": 17, "legendY": 209, "symbolType": "M-1,-1H4.6V1H-1Z", "symbolStrokeColor": "#555555", "symbolStrokeWidth": 1.5, "labelExpr": "datum.label + ' (Sup.)'"}}
        }
       },
       {
        "data": {"name": "zs"}, "transform": [{"filter": "datum.panel === 'a'"}],
        "mark": {"type": "rule", "strokeDash": [4, 2], "strokeWidth": 1.5},
        "encoding": {"y": {"field": "acc", "type": "quantitative"},
          "stroke": {"field": "model", "type": "nominal",
            "scale": {"domain": ["CONCH (Zero Shot)","PLIP (Zero Shot)","BiomedCLIP (Zero Shot)","OpenAICLIP (Zero Shot)"], "range": ["#44AA99","#DDCC77","#88CCEE","#AA4499"]},
            "legend": {"legendX": 17, "legendY": 288.5, "rowPadding": 6.1, "symbolType": "M-1,0H4.6", "symbolStrokeWidth": 1.5, "symbolDash": [4, 2], "symbolFillColor": "transparent"}}}
       },
       {
        "data": {"name": "pts"}, "transform": [{"filter": "datum.panel === 'a'"}],
        "mark": {"type": "point", "filled": true, "size": 50, "opacity": 0.9},
        "encoding": {
          "x": {"field": "labels", "type": "nominal"},
          "xOffset": {"field": "model", "type": "nominal"},
          "y": {"field": "acc", "type": "quantitative"},
          "fill": {"field": "model", "type": "nominal", "scale": {"domain": ["CONCH","PLIP","BiomedCLIP","OpenAICLIP"], "range": ["#44AA99","#DDCC77","#88CCEE","#AA4499"]}, "legend": null}
        }
       }
      ]
     }
    ]
   },
   {
    "title": {"text": "b", "anchor": "start", "frame": "bounds", "fontSize": 21, "fontWeight": "bold", "offset": -16, "dx": 4},
    "resolve": {"scale": {"color": "independent", "fill": "independent", "stroke": "independent", "xOffset": "independent"}},
    "vconcat": [
     {
      "width": 556, "height": 370,
      "title": {"text": "TCGA RCC (RCC Subtyping)", "fontSize": 28, "offset": -1.5, "frame": "group", "dx": 27},
      "layer": [
       {
        "data": {"name": "pts"}, "transform": [{"filter": "datum.panel === 'b'"}],
        "mark": {"type": "boxplot", "extent": 1.5, "size": 18.5, "outliers": false,
          "box": {"stroke": "#2a2a2a", "strokeWidth": 2},
          "median": {"color": "#2a2a2a", "thickness": 2},
          "rule": {"color": "#2a2a2a", "strokeWidth": 2},
          "ticks": {"color": "#2a2a2a", "size": 9, "thickness": 2}},
        "encoding": {
          "x": {"field": "labels", "type": "nominal", "scale": {"domain": ["1","2","4","8","16","32"], "paddingInner": 0, "paddingOuter": 0},
                "axis": {"title": "Training Labels Per Class", "labelAngle": 0, "labelFontSize": 19.5, "titleFontSize": 20.5, "labelPadding": 1, "titlePadding": 3}},
          "xOffset": {"field": "model", "type": "nominal", "scale": {"domain": ["CONCH","PLIP","BiomedCLIP","OpenAICLIP"], "paddingInner": 0, "paddingOuter": 0.5}},
          "y": {"field": "acc", "type": "quantitative", "scale": {"domain": [0, 1]},
                "axis": {"title": "Balanced Accuracy", "values": [0, 0.25, 0.5, 0.75, 1], "labelExpr": "datum.value == 0 ? '0.0' : datum.value == 1 ? '1.0' : '' + datum.value", "labelFontSize": 19.5, "titleFontSize": 20.5, "titlePadding": 8, "labelPadding": 2}},
          "color": {"field": "model", "type": "nominal",
            "scale": {"domain": ["CONCH","PLIP","BiomedCLIP","OpenAICLIP"], "range": ["#A2D4CC","#EEE5BB","#C3E5F6","#D4A2CC"]},
            "legend": null}
        }
       },
       {
        "data": {"name": "zs"}, "transform": [{"filter": "datum.panel === 'b'"}],
        "mark": {"type": "rule", "strokeDash": [4, 2], "strokeWidth": 1.5},
        "encoding": {"y": {"field": "acc", "type": "quantitative"},
          "stroke": {"field": "model", "type": "nominal",
            "scale": {"domain": ["CONCH (Zero Shot)","PLIP (Zero Shot)","BiomedCLIP (Zero Shot)","OpenAICLIP (Zero Shot)"], "range": ["#44AA99","#DDCC77","#88CCEE","#AA4499"]}, "legend": null}}
       },
       {
        "data": {"name": "pts"}, "transform": [{"filter": "datum.panel === 'b'"}],
        "mark": {"type": "point", "filled": true, "size": 50, "opacity": 0.9},
        "encoding": {
          "x": {"field": "labels", "type": "nominal"},
          "xOffset": {"field": "model", "type": "nominal"},
          "y": {"field": "acc", "type": "quantitative"},
          "fill": {"field": "model", "type": "nominal", "scale": {"domain": ["CONCH","PLIP","BiomedCLIP","OpenAICLIP"], "range": ["#44AA99","#DDCC77","#88CCEE","#AA4499"]}, "legend": null}
        }
       }
      ]
     }
    ]
   }
  ],
  "spacing": 43,
  "resolve": {"scale": {"color": "independent", "fill": "independent", "stroke": "independent", "xOffset": "independent"}}
 },
 {
  "title": {"text": "c", "anchor": "start", "frame": "bounds", "fontSize": 21, "fontWeight": "bold", "offset": -16, "dx": 3},
  "resolve": {"scale": {"color": "independent", "fill": "independent", "stroke": "independent", "xOffset": "independent"}},
  "vconcat": [
   {
    "width": 982, "height": 436,
    "title": {"text": "TCGA NSCLC (NSCLC Subtyping)", "fontSize": 28, "offset": -25, "frame": "group", "dx": -4},
    "layer": [
     {
      "data": {"name": "pts"}, "transform": [{"filter": "datum.panel === 'c'"}],
      "mark": {"type": "boxplot", "extent": 1.5, "size": 21.5, "outliers": false,
        "box": {"stroke": "#2a2a2a", "strokeWidth": 2},
        "median": {"color": "#2a2a2a", "thickness": 2},
        "rule": {"color": "#2a2a2a", "strokeWidth": 2},
        "ticks": {"color": "#2a2a2a", "size": 10, "thickness": 2}},
      "encoding": {
        "x": {"field": "labels", "type": "nominal", "scale": {"domain": ["1","2","4","8","16","32","64","128","256"], "paddingInner": 0, "paddingOuter": 0},
              "axis": {"title": "Training Labels Per Class", "labelAngle": 0, "labelFontSize": 23.5, "titleFontSize": 24, "labelPadding": 1, "titlePadding": 4}},
        "xOffset": {"field": "model", "type": "nominal", "scale": {"domain": ["CONCH","PLIP","BiomedCLIP","OpenAICLIP"], "paddingInner": 0, "paddingOuter": 0.5}},
        "y": {"field": "acc", "type": "quantitative", "scale": {"domain": [0, 1]},
              "axis": {"title": "Balanced Accuracy", "values": [0, 0.25, 0.5, 0.75, 1], "labelExpr": "datum.value == 0 ? '0.0' : datum.value == 1 ? '1.0' : '' + datum.value", "labelFontSize": 23.5, "titleFontSize": 24, "titlePadding": 5, "labelPadding": 2}},
        "color": {"field": "model", "type": "nominal",
          "scale": {"domain": ["CONCH","PLIP","BiomedCLIP","OpenAICLIP"], "range": ["#A2D4CC","#EEE5BB","#C3E5F6","#D4A2CC"]},
          "legend": {"legendX": 745, "legendY": 243, "symbolType": "M-1,-1H4.6V1H-1Z", "symbolStrokeColor": "#555555", "symbolStrokeWidth": 1.5, "labelExpr": "datum.label + ' (Sup.)'"}}
      }
     },
     {
      "data": {"name": "zs"}, "transform": [{"filter": "datum.panel === 'c'"}],
      "mark": {"type": "rule", "strokeDash": [4, 2], "strokeWidth": 1.5},
      "encoding": {"y": {"field": "acc", "type": "quantitative"},
        "stroke": {"field": "model", "type": "nominal",
          "scale": {"domain": ["CONCH (Zero Shot)","PLIP (Zero Shot)","BiomedCLIP (Zero Shot)","OpenAICLIP (Zero Shot)"], "range": ["#44AA99","#DDCC77","#88CCEE","#AA4499"]},
          "legend": {"legendX": 745, "legendY": 322.5, "rowPadding": 6.1, "symbolType": "M-1,0H4.6", "symbolStrokeWidth": 1.5, "symbolDash": [4, 2], "symbolFillColor": "transparent"}}}
     },
     {
      "data": {"name": "pts"}, "transform": [{"filter": "datum.panel === 'c'"}],
      "mark": {"type": "point", "filled": true, "size": 60, "opacity": 0.9},
      "encoding": {
        "x": {"field": "labels", "type": "nominal"},
        "xOffset": {"field": "model", "type": "nominal"},
        "y": {"field": "acc", "type": "quantitative"},
        "fill": {"field": "model", "type": "nominal", "scale": {"domain": ["CONCH","PLIP","BiomedCLIP","OpenAICLIP"], "range": ["#44AA99","#DDCC77","#88CCEE","#AA4499"]}, "legend": null}
      }
     }
    ]
   }
  ]
 }
],
"spacing": 45,
"center": true,
"resolve": {"scale": {"color": "independent", "fill": "independent", "stroke": "independent", "xOffset": "independent"}}
}
